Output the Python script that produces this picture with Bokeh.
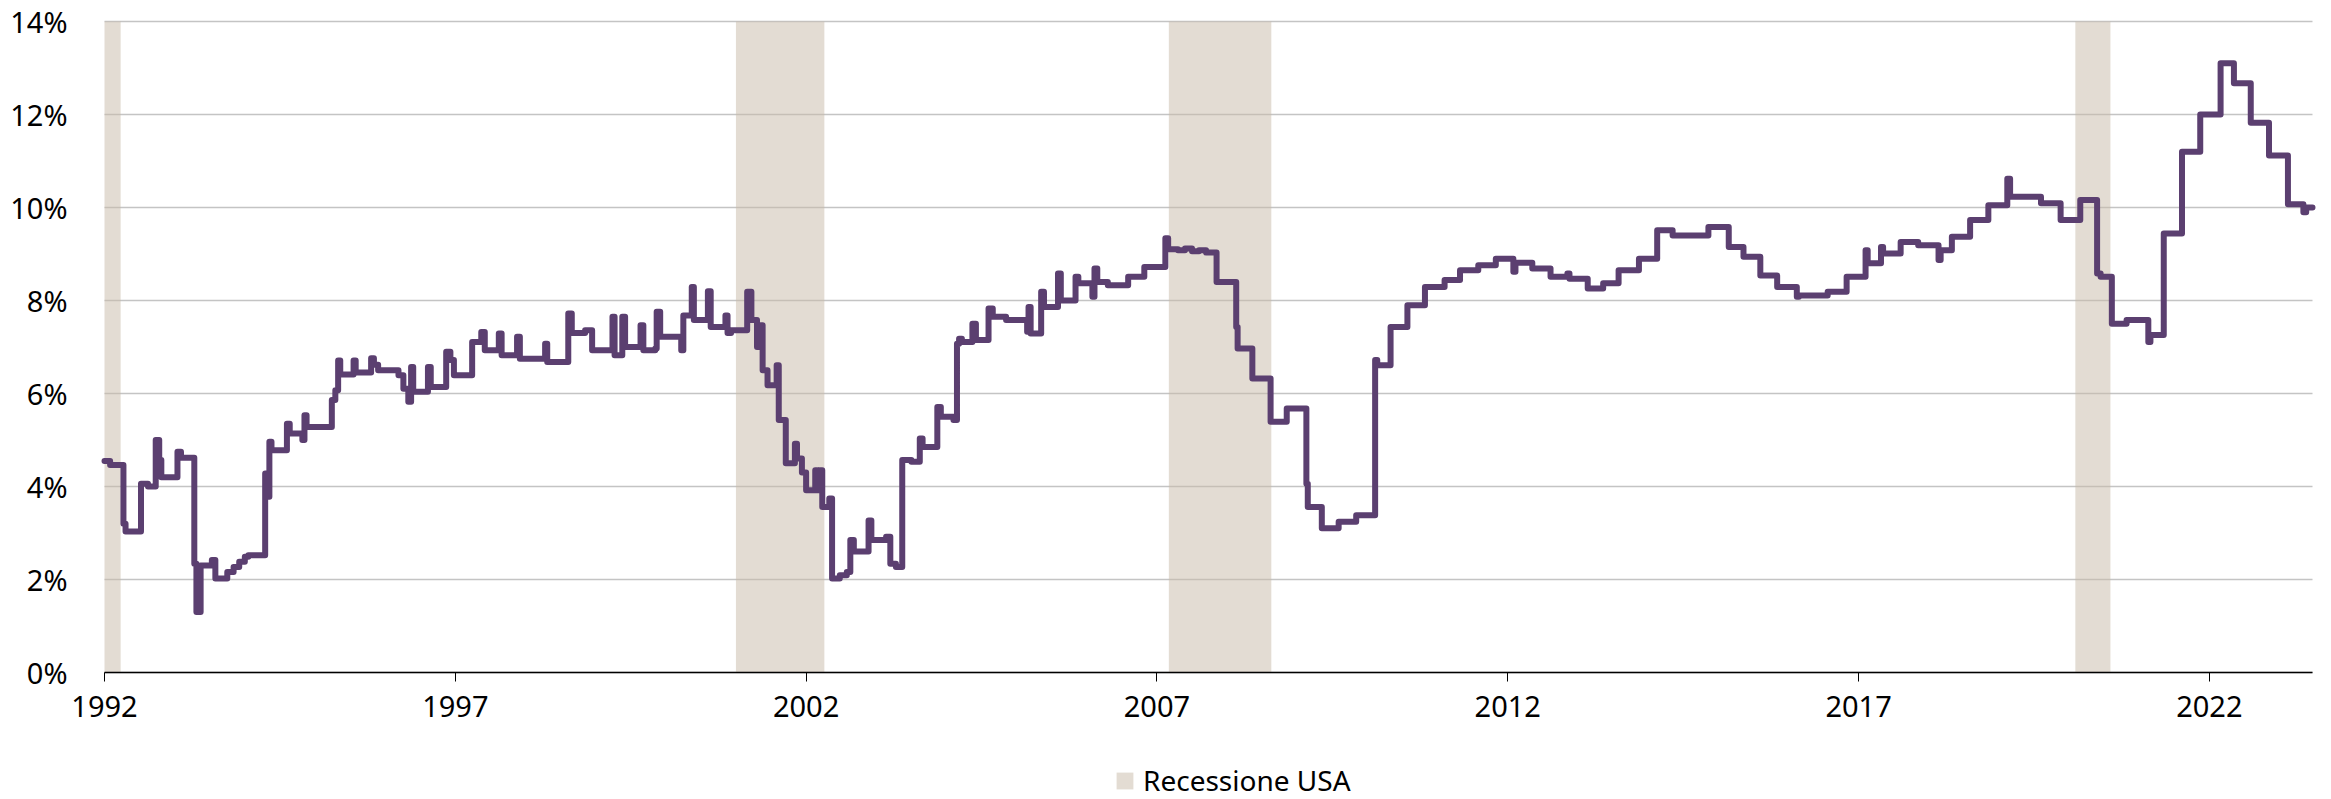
from bokeh.plotting import figure
from bokeh.models import Range1d, FixedTicker, Legend, LegendItem, ColumnDataSource
from bokeh.embed import file_html
from bokeh.resources import INLINE

# --- data -------------------------------------------------------------
years = [
    1992.00, 1992.08, 1992.27, 1992.30, 1992.52, 1992.62, 1992.73, 1992.78, 1992.81, 1993.04,
    1993.09, 1993.28, 1993.31, 1993.37, 1993.53, 1993.58, 1993.75, 1993.84, 1993.92, 1994.00,
    1994.05, 1994.29, 1994.31, 1994.35, 1994.38, 1994.60, 1994.64, 1994.82, 1994.85, 1994.88,
    1995.24, 1995.29, 1995.33, 1995.36, 1995.55, 1995.58, 1995.80, 1995.84, 1995.90, 1996.19,
    1996.26, 1996.33, 1996.37, 1996.40, 1996.61, 1996.65, 1996.87, 1996.93, 1996.98, 1997.24,
    1997.37, 1997.42, 1997.62, 1997.66, 1997.88, 1997.92, 1998.28, 1998.31, 1998.61, 1998.66,
    1998.85, 1998.95, 1999.24, 1999.27, 1999.38, 1999.42, 1999.64, 1999.68, 1999.85, 1999.87,
    1999.92, 2000.22, 2000.25, 2000.37, 2000.40, 2000.60, 2000.64, 2000.85, 2000.88, 2000.93,
    2001.16, 2001.22, 2001.30, 2001.35, 2001.38, 2001.45, 2001.58, 2001.61, 2001.71, 2001.84,
    2001.87, 2001.94, 2002.00, 2002.13, 2002.16, 2002.20, 2002.23, 2002.33, 2002.37, 2002.48,
    2002.58, 2002.63, 2002.68, 2002.89, 2002.93, 2003.14, 2003.20, 2003.28, 2003.37, 2003.50,
    2003.62, 2003.66, 2003.87, 2003.92, 2004.10, 2004.15, 2004.18, 2004.22, 2004.37, 2004.42,
    2004.60, 2004.66, 2004.85, 2005.15, 2005.17, 2005.20, 2005.35, 2005.39, 2005.59, 2005.63,
    2005.84, 2005.88, 2006.08, 2006.11, 2006.15, 2006.30, 2006.59, 2006.82, 2007.12, 2007.16,
    2007.30, 2007.40, 2007.50, 2007.60, 2007.70, 2007.85, 2008.13, 2008.15, 2008.36, 2008.62,
    2008.85, 2009.13, 2009.15, 2009.35, 2009.59, 2009.84, 2010.11, 2010.14, 2010.33, 2010.57,
    2010.82, 2011.10, 2011.32, 2011.58, 2011.83, 2012.08, 2012.11, 2012.35, 2012.61, 2012.85,
    2012.88, 2013.14, 2013.36, 2013.58, 2013.87, 2014.13, 2014.35, 2014.86, 2015.15, 2015.36,
    2015.60, 2015.84, 2016.12, 2016.15, 2016.56, 2016.83, 2017.10, 2017.13, 2017.32, 2017.35,
    2017.60, 2017.85, 2018.14, 2018.17, 2018.33, 2018.59, 2018.85, 2019.12, 2019.16, 2019.60,
    2019.88, 2020.16, 2020.40, 2020.45, 2020.61, 2020.82, 2021.13, 2021.16, 2021.35, 2021.61,
    2021.87, 2022.16, 2022.35, 2022.59, 2022.85, 2023.12, 2023.34, 2023.38, 2023.47,
]
values = [
    4.55, 4.46, 3.20, 3.03, 4.06, 4.00, 5.00, 4.57, 4.20, 4.75,
    4.62, 2.34, 1.30, 2.30, 2.42, 2.02, 2.16, 2.27, 2.38, 2.49,
    2.52, 4.28, 3.78, 4.96, 4.78, 5.35, 5.14, 5.00, 5.53, 5.28,
    5.86, 6.07, 6.71, 6.41, 6.71, 6.45, 6.76, 6.62, 6.50, 6.39,
    6.10, 5.82, 6.57, 6.04, 6.57, 6.14, 6.90, 6.72, 6.39, 7.11,
    7.32, 6.93, 7.29, 6.82, 7.22, 6.75, 7.07, 6.68, 7.72, 7.30,
    7.36, 6.93, 7.65, 6.82, 7.65, 7.00, 7.47, 6.93, 6.97, 7.76,
    7.22, 6.93, 7.68, 8.29, 7.58, 8.20, 7.43, 7.68, 7.30, 7.36,
    8.19, 7.58, 7.00, 7.47, 6.50, 6.18, 6.61, 5.43, 4.50, 4.92,
    4.60, 4.30, 3.92, 4.35, 3.92, 4.35, 3.56, 3.74, 2.02, 2.09,
    2.16, 2.85, 2.60, 3.27, 2.85, 2.92, 2.34, 2.27, 4.57, 4.53,
    5.03, 4.85, 5.71, 5.50, 5.43, 7.07, 7.18, 7.11, 7.50, 7.15,
    7.83, 7.65, 7.58, 7.33, 7.86, 7.29, 8.19, 7.86, 8.58, 8.00,
    8.51, 8.37, 8.08, 8.69, 8.40, 8.33, 8.51, 8.72, 9.34, 9.10,
    9.08, 9.12, 9.06, 9.08, 9.03, 8.40, 7.43, 6.97, 6.32, 5.39,
    5.68, 4.06, 3.56, 3.10, 3.24, 3.38, 6.72, 6.61, 7.43, 7.90,
    8.29, 8.44, 8.65, 8.76, 8.90, 8.62, 8.81, 8.69, 8.51, 8.58,
    8.47, 8.26, 8.37, 8.65, 8.90, 9.51, 9.40, 9.58, 9.15, 8.94,
    8.54, 8.29, 8.08, 8.11, 8.19, 8.51, 9.08, 8.80, 9.15, 9.01,
    9.26, 9.19, 8.87, 9.08, 9.37, 9.73, 10.05, 10.62, 10.23, 10.09,
    9.73, 10.16, 8.58, 8.51, 7.50, 7.58, 7.11, 7.26, 9.44, 11.20,
    12.00, 13.10, 12.67, 11.82, 11.12, 10.07, 9.90, 10.00, 10.00,
]

recession_start = [1992.00, 2001.00, 2007.17, 2020.09]
recession_end = [1992.23, 2002.26, 2008.63, 2020.59]
recession_label = "Recessione USA"

x_ticks = [1992, 1997, 2002, 2007, 2012, 2017, 2022]
x_tick_labels = ["1992", "1997", "2002", "2007", "2012", "2017", "2022"]
y_ticks = [0, 2, 4, 6, 8, 10, 12, 14]
y_tick_labels = ["0%", "2%", "4%", "6%", "8%", "10%", "12%", "14%"]

X_MIN, X_MAX = 1992.0, 2023.47
Y_MIN, Y_MAX = 0.0, 14.0

# --- layout -----------------------------------------------------------
W, H = 2331, 799
PLOT_L, PLOT_R, PLOT_T, PLOT_B = 104, 2312, 21, 672   # pixel box of the data area
ppx = (PLOT_R - PLOT_L) / (X_MAX - X_MIN)
ppy = (PLOT_B - PLOT_T) / (Y_MAX - Y_MIN)
x_range = Range1d(X_MIN - PLOT_L / ppx, X_MAX + (W - PLOT_R) / ppx)
y_range = Range1d(Y_MIN - (H - PLOT_B) / ppy, Y_MAX + PLOT_T / ppy)

FONT = "Noto Sans"
LINE_COLOR = "#5b3f70"

p = figure(
    width=W, height=H,
    output_backend="svg", toolbar_location=None,
    x_range=x_range, y_range=y_range,
    min_border_left=0, min_border_right=0, min_border_top=0, min_border_bottom=0,
)
p.outline_line_color = None
p.background_fill_color = "white"
p.border_fill_color = "white"

bands = ColumnDataSource(dict(left=recession_start, right=recession_end,
                              bottom=[Y_MIN] * len(recession_start),
                              top=[Y_MAX] * len(recession_start)))
r_band = p.quad(left="left", right="right", bottom="bottom", top="top", source=bands,
                fill_color="#c7b9a7", fill_alpha=0.5, line_color=None)

p.step(x=years, y=values, mode="after", line_color=LINE_COLOR, line_width=6,
       line_join="round", line_cap="round")

# grid
p.xgrid.grid_line_color = None
p.ygrid.grid_line_color = "#c4c4c4"
p.ygrid.grid_line_width = 1.5
p.ygrid.ticker = FixedTicker(ticks=y_ticks)
p.ygrid.cross_bounds = (X_MIN, X_MAX)

# x axis, pinned at 0 %
xa = p.xaxis[0]
xa.fixed_location = Y_MIN
xa.bounds = (X_MIN, X_MAX)
xa.ticker = FixedTicker(ticks=x_ticks)
xa.major_label_overrides = {t: l for t, l in zip(x_ticks, x_tick_labels)}
xa.axis_line_color = "black"
xa.axis_line_width = 1.5
xa.major_tick_line_color = "black"
xa.major_tick_line_width = 1
xa.major_tick_out = 9
xa.major_tick_in = 0
xa.minor_tick_line_color = None
xa.major_label_text_font = FONT
xa.major_label_text_font_size = "29px"
xa.major_label_text_color = "black"
xa.major_label_standoff = 14

# y axis, pinned at the first year
ya = p.yaxis[0]
ya.fixed_location = X_MIN
ya.bounds = (Y_MIN, Y_MAX)
ya.ticker = FixedTicker(ticks=y_ticks)
ya.major_label_overrides = {t: l for t, l in zip(y_ticks, y_tick_labels)}
ya.axis_line_color = None
ya.major_tick_line_color = None
ya.minor_tick_line_color = None
ya.major_label_text_font = FONT
ya.major_label_text_font_size = "29px"
ya.major_label_text_color = "black"
ya.major_label_standoff = 31

legend = Legend(items=[LegendItem(label=recession_label, renderers=[r_band])],
                location=(1114, 0), orientation="horizontal",
                glyph_width=21, glyph_height=21, label_standoff=8,
                padding=0, margin=0, spacing=0,
                border_line_color=None, background_fill_alpha=0,
                label_text_font=FONT, label_text_font_size="28px", label_text_color="black")
p.add_layout(legend, "center")

open("out.html", "w").write(file_html(p, INLINE))
